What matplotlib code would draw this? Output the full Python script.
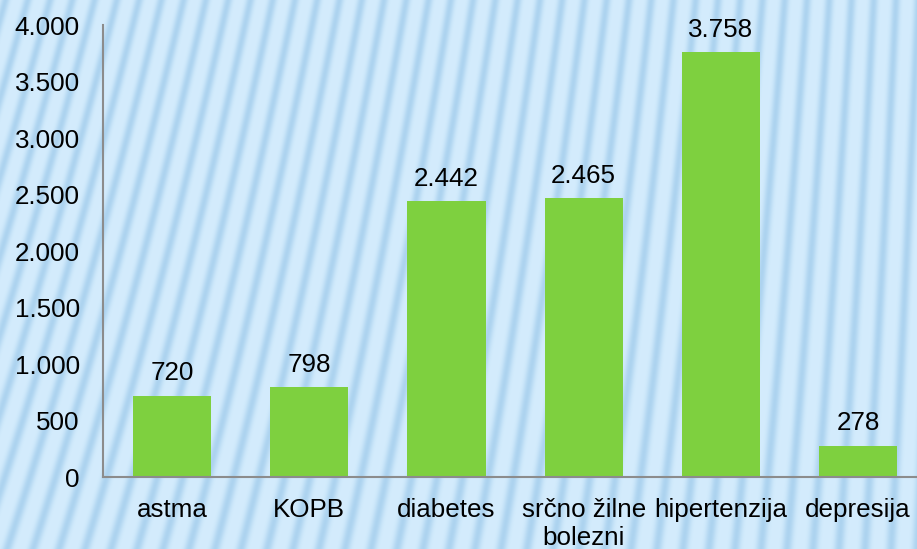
import numpy as np
import matplotlib.pyplot as plt

categories = ['astma', 'KOPB', 'diabetes', 'srčno žilne\nbolezni', 'hipertenzija', 'depresija']
values = [720, 798, 2442, 2465, 3758, 278]
yticks = [0, 500, 1000, 1500, 2000, 2500, 3000, 3500, 4000]

plt.rcParams['font.family'] = ['Liberation Sans', 'DejaVu Sans']

def fmt(v):
    return '{:,}'.format(v).replace(',', '.')

fig = plt.figure(figsize=(9.17, 5.49), dpi=100)

# striped light blue background, stripes get steeper towards the right
h, w = 549, 917
yy, xx = np.mgrid[0:h, 0:w]
k = 0.33 - 0.28 * xx / w
phase = 2 * np.pi * (xx + k * (yy - h)) / 26.0
s = (0.5 + 0.5 * np.sin(phase)) ** 2.5
base = np.array([0.83, 0.925, 0.99])
dark = np.array([0.68, 0.83, 0.94])
img = base[None, None, :] * (1 - s[..., None]) + dark[None, None, :] * s[..., None]
bg = fig.add_axes([0, 0, 1, 1], zorder=0)
bg.imshow(img, aspect='auto', extent=[0, 1, 0, 1])
bg.axis('off')

ax = fig.add_axes([0.1128, 0.1311, 0.8977, 0.8233], zorder=1)
ax.patch.set_alpha(0)
x = np.arange(len(categories))
ax.bar(x, values, width=0.57, color='#7ed03f')
for xi, v in zip(x, values):
    ax.annotate(fmt(v), (xi, v), xytext=(0, 11), textcoords='offset points',
                ha='center', va='baseline', fontsize=18.7, color='black')

ax.set_xlim(-0.5, len(categories) - 0.5)
ax.set_ylim(0, 4000)
ax.set_yticks(yticks)
ax.set_yticklabels([fmt(t) for t in yticks], fontsize=18.7)
ax.set_xticks(x)
ax.set_xticklabels(categories, fontsize=18.7, linespacing=1.2)
ax.tick_params(axis='y', length=0, pad=17)
ax.tick_params(axis='x', length=0, pad=15)
for sp in ['top', 'right']:
    ax.spines[sp].set_visible(False)
for sp in ['left', 'bottom']:
    ax.spines[sp].set_color('#8c8c8c')
    ax.spines[sp].set_linewidth(1.5)

fig.savefig('out.png', dpi=100)
